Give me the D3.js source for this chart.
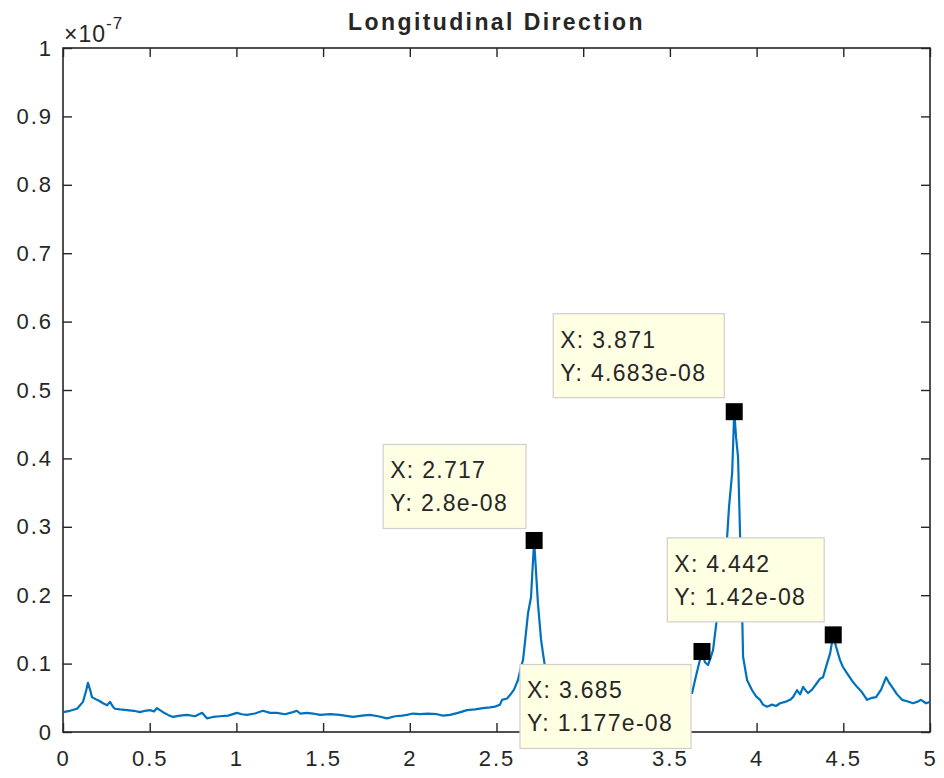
<!DOCTYPE html>
<html>
<head>
<meta charset="utf-8">
<script src="https://cdn.jsdelivr.net/npm/d3@7"></script>
<style>
  body { margin: 0; background: #fff; }
  text { font-family: "Liberation Sans", Arial, sans-serif; fill: #262626; }
</style>
</head>
<body>
<div id="chart"></div>
<script>
// spectrum values, x in Hz-like units, y in units of 1e-8
var xVals = [0.000, 0.040, 0.081, 0.115, 0.133, 0.144, 0.156, 0.167, 0.196, 0.213, 0.231, 0.254, 0.271, 0.288,
  0.300, 0.329, 0.369, 0.409, 0.444, 0.473, 0.502, 0.525, 0.542, 0.559, 0.577, 0.606, 0.634, 0.675, 0.715,
  0.761, 0.802, 0.830, 0.865, 0.905, 0.952, 1.003, 1.032, 1.061, 1.107, 1.153, 1.194, 1.234, 1.280, 1.326,
  1.349, 1.367, 1.407, 1.442, 1.482, 1.540, 1.597, 1.672, 1.724, 1.770, 1.817, 1.869, 1.915, 1.955, 1.984,
  2.018, 2.059, 2.105, 2.157, 2.191, 2.232, 2.278, 2.330, 2.376, 2.422, 2.463, 2.491, 2.520, 2.532, 2.561,
  2.578, 2.601, 2.624, 2.641, 2.653, 2.670, 2.682, 2.699, 2.717, 2.739, 2.757, 2.768, 2.786, 2.809, 2.843,
  2.895, 2.982, 3.097, 3.212, 3.328, 3.414, 3.489, 3.558, 3.628, 3.645, 3.668, 3.685, 3.702, 3.720, 3.737,
  3.749, 3.772, 3.801, 3.830, 3.841, 3.859, 3.871, 3.882, 3.893, 3.905, 3.916, 3.922, 3.945, 3.974, 3.997,
  4.020, 4.037, 4.060, 4.089, 4.112, 4.135, 4.164, 4.193, 4.210, 4.233, 4.251, 4.268, 4.285, 4.297, 4.320,
  4.349, 4.366, 4.383, 4.406, 4.424, 4.442, 4.458, 4.481, 4.498, 4.521, 4.550, 4.579, 4.608, 4.637, 4.666,
  4.689, 4.718, 4.747, 4.764, 4.781, 4.810, 4.839, 4.868, 4.902, 4.925, 4.948, 4.977, 5.000];

var yVals = [0.29, 0.31, 0.34, 0.44, 0.60, 0.72, 0.62, 0.51, 0.47, 0.45, 0.42, 0.39, 0.44, 0.37,
  0.34, 0.33, 0.32, 0.31, 0.29, 0.31, 0.32, 0.30, 0.35, 0.32, 0.29, 0.25, 0.22, 0.24, 0.25,
  0.23, 0.28, 0.20, 0.22, 0.23, 0.24, 0.28, 0.26, 0.25, 0.27, 0.31, 0.28, 0.28, 0.26, 0.29,
  0.31, 0.27, 0.28, 0.27, 0.25, 0.26, 0.25, 0.22, 0.24, 0.25, 0.23, 0.20, 0.23, 0.24, 0.25,
  0.27, 0.26, 0.27, 0.26, 0.24, 0.25, 0.28, 0.32, 0.33, 0.35, 0.36, 0.37, 0.40, 0.47, 0.49,
  0.54, 0.62, 0.76, 0.95, 1.05, 1.45, 1.74, 1.97, 2.80, 1.88, 1.35, 1.15, 0.85, 0.65, 0.50,
  0.42, 0.38, 0.35, 0.36, 0.40, 0.45, 0.52, 0.60, 0.57, 0.76, 1.00, 1.177, 1.02, 0.98, 1.10,
  1.20, 1.68, 2.30, 2.85, 3.29, 3.79, 4.683, 4.30, 4.02, 2.85, 1.83, 1.10, 0.76, 0.61, 0.52,
  0.47, 0.40, 0.37, 0.40, 0.38, 0.42, 0.44, 0.47, 0.51, 0.61, 0.55, 0.66, 0.60, 0.57, 0.62,
  0.72, 0.78, 0.80, 1.00, 1.15, 1.42, 1.25, 1.05, 0.95, 0.86, 0.75, 0.66, 0.58, 0.47, 0.50,
  0.51, 0.62, 0.80, 0.72, 0.66, 0.55, 0.47, 0.45, 0.42, 0.44, 0.47, 0.42, 0.44];

var yUnit = 1e-8;

// data tips
var tipX = [2.717, 3.871, 3.685, 4.442];
var tipY = [2.8e-08, 4.683e-08, 1.177e-08, 1.42e-08];
var tipLabelX = ['X: 2.717', 'X: 3.871', 'X: 3.685', 'X: 4.442'];
var tipLabelY = ['Y: 2.8e-08', 'Y: 4.683e-08', 'Y: 1.177e-08', 'Y: 1.42e-08'];

var xTicks = [0, 0.5, 1, 1.5, 2, 2.5, 3, 3.5, 4, 4.5, 5];
var xTickLabels = ['0', '0.5', '1', '1.5', '2', '2.5', '3', '3.5', '4', '4.5', '5'];
var yTicks = [0, 1, 2, 3, 4, 5, 6, 7, 8, 9, 10];
var yTickLabels = ['0', '0.1', '0.2', '0.3', '0.4', '0.5', '0.6', '0.7', '0.8', '0.9', '1'];

// box offsets of the tips, relative to the marked point (layout only)
var tipOffset = [[-151, -96], [-181, -98], [-182, 13], [-166, -97]];

var margin = { top: 48, left: 63, bottom: 46, right: 14 },
    width = 944 - margin.left - margin.right,
    height = 778 - margin.top - margin.bottom;

var svg = d3.select('#chart').append('svg')
    .attr('width', 944)
    .attr('height', 778)
    .append('g')
    .attr('transform', 'translate(' + margin.left + ', ' + margin.top + ')');

var x = d3.scaleLinear().domain([0, 5]).range([0, width]);
var y = d3.scaleLinear().domain([0, 10 * yUnit]).range([height, 0]);

var axisColor = '#262626';

// axes, ticks pointing inward
var xAxis = d3.axisBottom(x)
    .tickValues(xTicks)
    .tickSizeInner(-9)
    .tickSizeOuter(0)
    .tickPadding(18)
    .tickFormat((d, i) => xTickLabels[i]);

var yAxis = d3.axisLeft(y)
    .tickValues(yTicks.map(d => d * yUnit))
    .tickSizeInner(-9)
    .tickSizeOuter(0)
    .tickPadding(10)
    .tickFormat((d, i) => yTickLabels[i]);

var gx = svg.append('g')
    .attr('transform', 'translate(0,' + height + ')')
    .call(xAxis);

var gy = svg.append('g').call(yAxis);

svg.append('g')
    .call(d3.axisTop(x).tickValues(xTicks).tickSizeInner(-9).tickSizeOuter(0).tickFormat(''));
svg.append('g')
    .attr('transform', 'translate(' + width + ',0)')
    .call(d3.axisRight(y).tickValues(yTicks.map(d => d * yUnit)).tickSizeInner(-9).tickSizeOuter(0).tickFormat(''));

svg.selectAll('.domain').remove();
svg.selectAll('.tick line').attr('stroke', axisColor).attr('stroke-width', 1.4);
svg.selectAll('.tick text')
    .attr('fill', axisColor)
    .style('font-size', '22px')
    .style('letter-spacing', '2px')
    .style('font-family', '"Liberation Sans", Arial, sans-serif');

svg.append('rect')
    .attr('x', 0)
    .attr('y', 0)
    .attr('width', width)
    .attr('height', height)
    .attr('fill', 'none')
    .attr('stroke', axisColor)
    .attr('stroke-width', 1.6);

// the spectrum line
var line = d3.line()
    .x((d, i) => x(xVals[i]))
    .y(d => y(d * yUnit));

svg.append('path')
    .datum(yVals)
    .attr('d', line)
    .attr('fill', 'none')
    .attr('stroke', '#0072BD')
    .attr('stroke-width', 2.2)
    .attr('stroke-linejoin', 'round');

// markers
svg.selectAll('.marker')
    .data(tipX)
    .enter()
    .append('rect')
    .attr('class', 'marker')
    .attr('x', (d, i) => x(d) - 8.5)
    .attr('y', (d, i) => y(tipY[i]) - 8.5)
    .attr('width', 17)
    .attr('height', 17)
    .attr('fill', '#000');

// data tip boxes
tipX.forEach(function (d, i) {
    var px = x(d) + tipOffset[i][0],
        py = y(tipY[i]) + tipOffset[i][1];
    var g = svg.append('g').attr('transform', 'translate(' + px + ',' + py + ')');
    var box = g.append('rect')
        .attr('fill', '#ffffe3')
        .attr('stroke', '#cfcfcf')
        .attr('stroke-width', 1.2)
        .attr('height', 84);
    var t1 = g.append('text').attr('x', 7).attr('y', 34).text(tipLabelX[i]);
    var t2 = g.append('text').attr('x', 7).attr('y', 67).text(tipLabelY[i]);
    g.selectAll('text')
        .style('font-size', '23px')
        .style('letter-spacing', '1.3px')
        .attr('fill', '#262626');
    var w = Math.max(t1.node().getComputedTextLength(), t2.node().getComputedTextLength());
    box.attr('width', w + 25);
});

// title
svg.append('text')
    .attr('x', width / 2)
    .attr('y', -18)
    .attr('text-anchor', 'middle')
    .style('font-size', '23px')
    .style('font-weight', 'bold')
    .style('letter-spacing', '2.4px')
    .attr('fill', '#000')
    .text('Longitudinal Direction');

// exponent label
var expo = svg.append('text')
    .attr('x', 1)
    .attr('y', -6)
    .style('font-size', '23px')
    .style('letter-spacing', '1px')
    .attr('fill', axisColor);
expo.append('tspan').text('\u00d710');
expo.append('tspan').text('-7')
    .attr('dy', -13)
    .style('font-size', '17px');
</script>
</body>
</html>
